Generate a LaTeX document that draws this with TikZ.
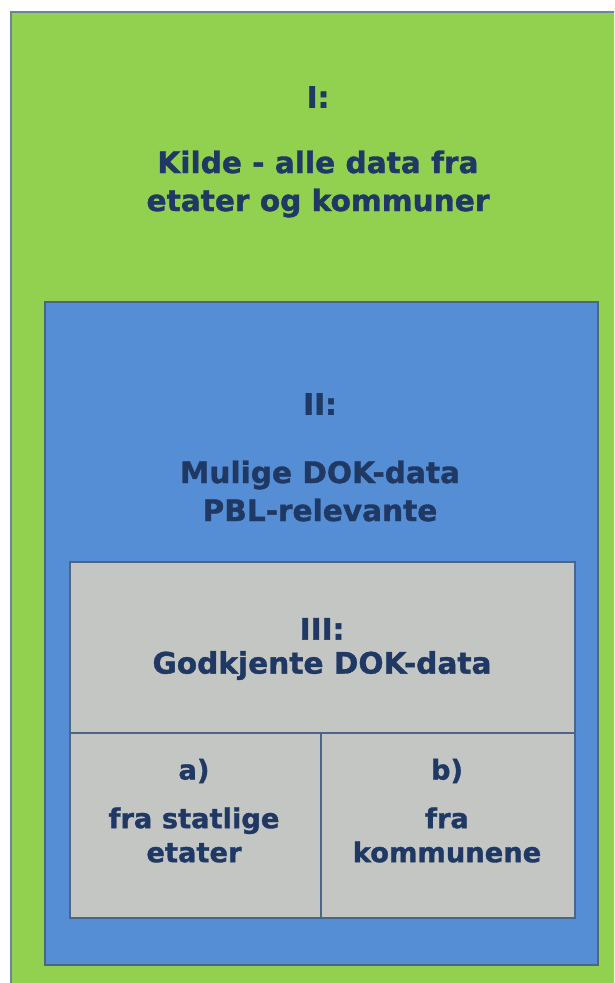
\documentclass[tikz,border=0pt]{standalone}
\usepackage{fontspec}
\setmainfont{DejaVu Sans}[BoldFeatures={FakeBold=1.2}]
\definecolor{kildegreen}{HTML}{92D050}
\definecolor{dokblue}{HTML}{558ED5}
\definecolor{godgray}{HTML}{C4C6C4}
\definecolor{navytext}{HTML}{1F3864}
\definecolor{frameline}{HTML}{4A6585}
\tikzset{
    box/.style={draw=frameline,line width=1.8pt,anchor=north west,inner sep=0pt},
    lbl/.style={text=navytext,align=center,font=\bfseries\fontsize{29.6}{38}\selectfont},
    smalllbl/.style={lbl,font=\bfseries\fontsize{27.3}{34}\selectfont}
}
\begin{document}
\begin{tikzpicture}[x=1pt,y=-1pt]
        \useasboundingbox (0,0) rectangle (614,983);
        \clip (0,0) rectangle (614,983);
        %% boxes
        \node[box,fill=kildegreen,draw=frameline!80,minimum width=640pt,minimum height=1000pt] (kilde) at (10,11) {};
        \node[box,fill=dokblue,minimum width=553pt,minimum height=663pt] (mulige) at (44,301) {};
        \node[box,fill=godgray,minimum width=505pt,minimum height=171pt] (godkjent) at (69,561) {};
        \node[box,fill=godgray,minimum width=251pt,minimum height=185pt] (statlig) at (69,732) {};
        \node[box,fill=godgray,minimum width=254pt,minimum height=185pt] (kommunal) at (320,732) {};
        %% labels
        \node[lbl] (kildenr) at (318,97) {I:};
        \node[lbl] (kildetxt) at (318,184) {Kilde - alle data fra\\etater og kommuner};
        \node[lbl] (mulignr) at (320,404) {II:};
        \node[lbl] (muligtxt) at (320,491) {Mulige DOK-data\\PBL-relevante};
        \node[lbl,font=\bfseries\fontsize{29.6}{34}\selectfont] (godkjtxt) at (322,649) {III:\\Godkjente DOK-data};
        \node[smalllbl] (statnr) at (194,771) {a)};
        \node[smalllbl] (stattxt) at (194,835) {fra statlige\\etater};
        \node[smalllbl] (kommnr) at (447,771) {b)};
        \node[smalllbl] (kommtxt) at (447,835) {fra\\kommunene};
    \end{tikzpicture}
\end{document}
